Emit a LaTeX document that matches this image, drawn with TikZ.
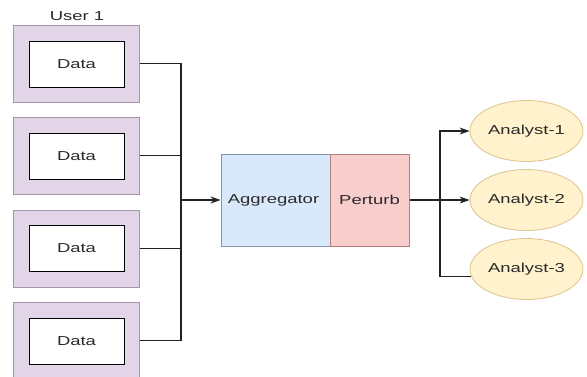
\documentclass[tikz,border=0pt]{standalone}
\usepackage{fontspec}
\setmainfont{Liberation Sans}[FakeStretch=1.42]
\usetikzlibrary{shapes.geometric,arrows.meta}
\definecolor{userfill}{HTML}{E1D5E7}
\definecolor{userdraw}{HTML}{A393AB}
\definecolor{aggfill}{HTML}{DAE8FC}
\definecolor{aggdraw}{HTML}{8496AE}
\definecolor{pertfill}{HTML}{F8CECC}
\definecolor{pertdraw}{HTML}{B4807E}
\definecolor{anfill}{HTML}{FFF2CC}
\definecolor{andraw}{HTML}{DCC48E}
\definecolor{txt}{HTML}{2A2A2A}
\definecolor{wire}{HTML}{222222}
\tikzset{
  lbl/.style={font=\fontsize{13}{15}\selectfont, text=txt},
  userbox/.style={draw=userdraw, fill=userfill, line width=1pt, minimum width=126pt, minimum height=77pt, inner sep=0pt},
  databox/.style={lbl, draw=black, fill=white, line width=1pt, minimum width=95pt, minimum height=46pt, inner sep=0pt},
  aggbox/.style={lbl, draw=aggdraw, fill=aggfill, line width=1pt, minimum width=109pt, minimum height=92pt, inner sep=0pt},
  pertbox/.style={lbl, draw=pertdraw, fill=pertfill, line width=1pt, minimum width=79pt, minimum height=92pt, inner sep=0pt},
  analyst/.style={lbl, ellipse, draw=andraw, fill=anfill, line width=0.8pt, minimum width=113pt, minimum height=61pt, inner sep=0pt},
  wireline/.style={draw=wire, line width=1.1pt},
  arrowline/.style={wireline, -{Stealth[length=10pt,width=7pt]}}
}
\begin{document}
\begin{tikzpicture}[x=1pt,y=-1pt]
\useasboundingbox (0,0) rectangle (587,376);
\fill[white] (0,0) rectangle (587,376);
% users
\node[lbl] (ulabel) at (77,16) {User 1};
\node[userbox] (u1) at (76,63.5) {};
\node[userbox] (u2) at (76,155.5) {};
\node[userbox] (u3) at (76,248.5) {};
\node[userbox] (u4) at (76,340.5) {};
\node[databox] (d1) at (76.5,64) {Data};
\node[databox] (d2) at (76.5,156) {Data};
\node[databox] (d3) at (76.5,248) {Data};
\node[databox] (d4) at (76.5,341) {Data};
% aggregator
\node[aggbox] (agg) at (275.5,200) {Aggregator\hspace*{4pt}};
\node[pertbox] (pert) at (369.5,200) {Perturb};
% analysts
\node[analyst] (a1) at (526.5,131) {Analyst-1};
\node[analyst] (a2) at (526.5,200) {Analyst-2};
\node[analyst] (a3) at (526.5,269) {Analyst-3};
% buses
\coordinate (bus) at (181,200);
\coordinate (obus) at (440,200);
\draw[wireline] (u1.east) -| (bus);
\draw[wireline] (u2.east) -| (bus);
\draw[wireline] (u3.east) -| (bus);
\draw[wireline] (u4.east) -| (bus);
\draw[arrowline] (bus) -- (agg.west);
\draw[wireline] (pert.east) -- (obus);
\draw[arrowline] (obus) |- (a1.west);
\draw[arrowline] (obus) |- (a2.west);
\draw[wireline] (obus) |- (a3.188);
\end{tikzpicture}
\end{document}
